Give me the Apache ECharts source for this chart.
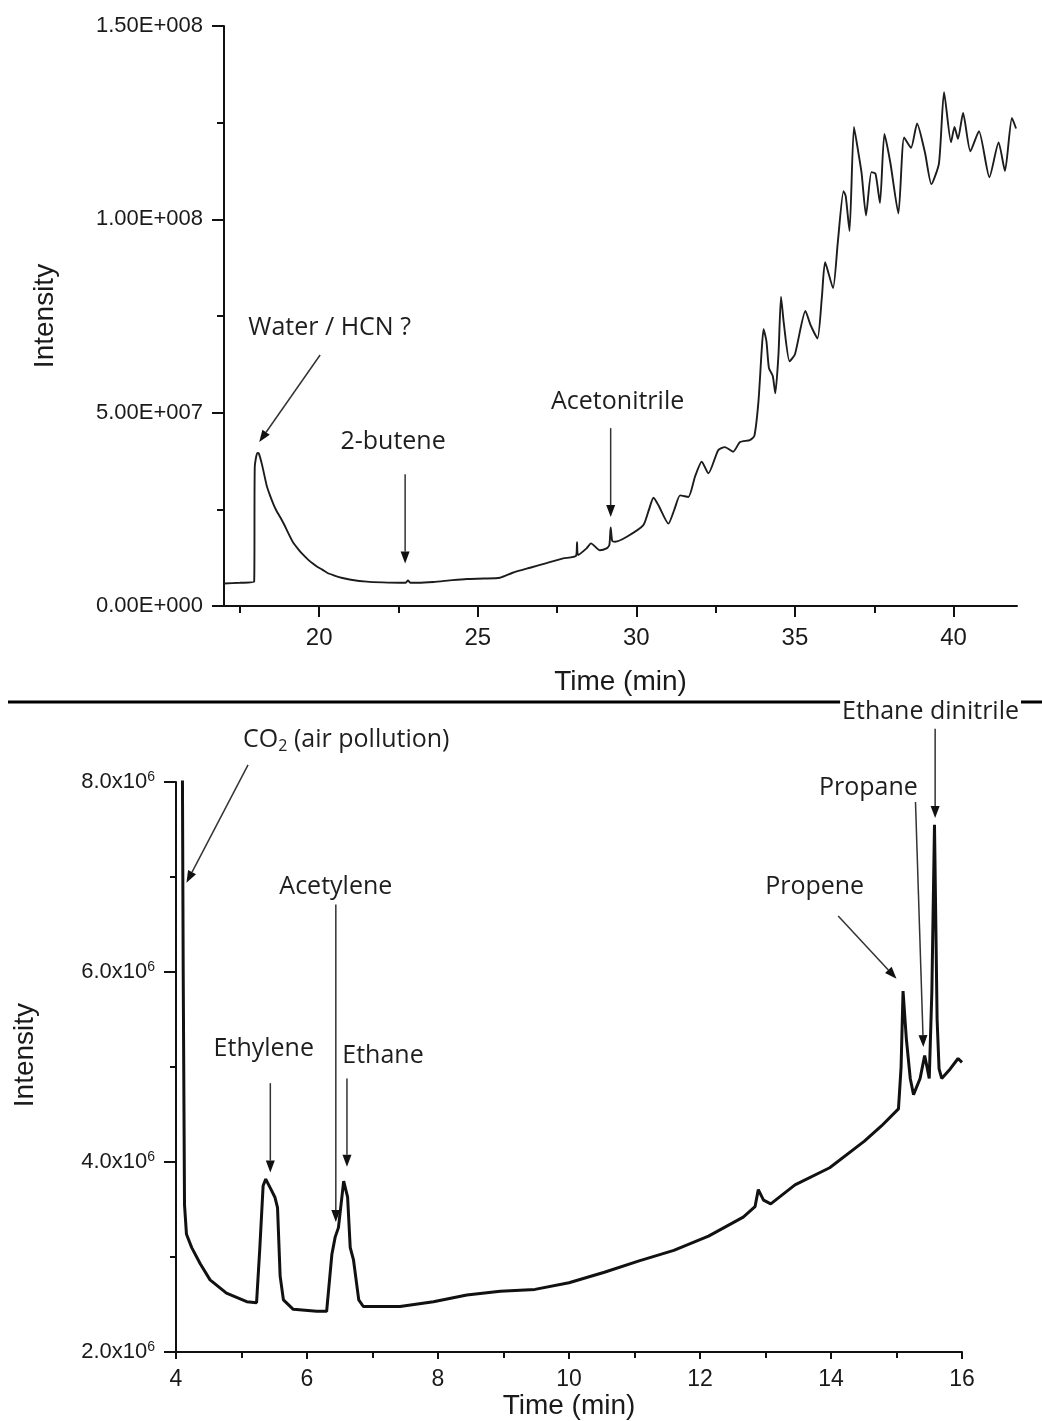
<!DOCTYPE html>
<html>
<head>
<meta charset="utf-8">
<script src="https://cdn.jsdelivr.net/npm/echarts@6/dist/echarts.min.js"></script>
<style>
  html, body { margin: 0; padding: 0; background: #ffffff; }
  #chart { width: 1042px; height: 1421px; }
</style>
</head>
<body>
<div id="chart"></div>
<script>
// ---- Upper chromatogram (17–42 min), intensity in units of 1e6 ----
const upperTime = [
  17.0, 17.5, 17.95, 17.97, 18.05, 18.1, 18.2, 18.35, 18.45, 18.55, 18.65, 18.77, 18.9, 19.0,
  19.18, 19.35, 19.5, 19.65, 19.8, 19.95, 20.1, 20.25, 20.44, 20.7, 21.0, 21.5, 22.0, 22.55,
  22.72, 22.8, 22.88, 23.1, 23.6, 24.2, 24.66, 25.2,
  25.7, 26.1, 26.65, 27.17, 27.69, 28.1, 28.13, 28.16, 28.43, 28.57, 28.85, 29.06, 29.15,
  29.19, 29.24, 29.33, 29.7, 30.22, 30.4, 30.54, 30.7, 31.01, 31.2, 31.38, 31.64, 31.85,
  32.06, 32.27, 32.58, 32.79, 33.05, 33.27, 33.58, 33.72, 33.85, 33.95, 34.01, 34.1, 34.18,
  34.3, 34.38, 34.48, 34.56, 34.65, 34.83, 35.0, 35.33, 35.49, 35.71, 35.85, 35.95, 36.2,
  36.35, 36.53, 36.6, 36.72, 36.86, 37.0, 37.1, 37.24, 37.41, 37.54, 37.68, 37.82, 38.01,
  38.26, 38.44, 38.66, 38.85, 39.1, 39.3, 39.54, 39.7, 39.92, 40.03, 40.14, 40.3, 40.53,
  40.8, 41.13, 41.42, 41.62, 41.84, 41.97
];
const upperIntensity = [
  5.8, 6.0, 6.2, 36.0, 39.6, 39.4, 36.5, 31.0, 28.6, 26.5, 24.7, 23.0, 21.0, 19.3,
  16.4, 14.6, 13.2, 12.0, 11.0, 10.1, 9.4, 8.6, 8.0, 7.3, 6.8, 6.3, 6.1, 6.0,
  6.0, 6.6, 6.0, 6.0, 6.2, 6.7, 7.0, 7.1,
  7.3, 8.6, 9.9, 11.1, 12.3, 13.0, 16.5, 13.2, 14.9, 16.2, 14.4, 14.9, 15.8,
  20.3, 16.8, 16.6, 17.9, 20.9, 25.0, 28.0, 26.0, 21.3, 25.0, 28.6, 28.2, 33.5,
  37.3, 34.3, 40.3, 41.1, 39.9, 42.4, 42.9, 44.0, 53.0, 66.0, 71.6, 68.5, 61.5,
  59.5, 55.0, 65.0, 80.0, 73.0, 63.3, 65.1, 76.3, 72.7, 69.2, 80.0, 88.9, 82.2,
  94.0, 107.3, 106.0, 97.0, 123.9, 117.2, 112.0, 101.0, 112.2, 111.8, 104.2, 122.1, 114.5,
  101.5, 121.2, 118.5, 124.8, 117.2, 109.1, 114.5, 132.9, 119.9, 123.9, 120.8, 127.5, 117.6,
  122.8, 110.9, 119.9, 112.5, 126.2, 123.5
];

// ---- Lower chromatogram (4–16 min), intensity in units of 1e6 ----
const lowerTime = [
  4.09, 4.11, 4.13, 4.16, 4.24, 4.37, 4.52, 4.77, 5.08, 5.23, 5.28, 5.33, 5.37, 5.46,
  5.51, 5.55, 5.59, 5.64, 5.79, 6.15, 6.30, 6.38, 6.43, 6.48, 6.56, 6.62, 6.66, 6.71,
  6.79, 6.86, 7.42, 7.93, 8.44, 8.95, 9.48, 10.0, 10.54, 11.07, 11.6, 12.13, 12.66,
  12.84, 12.89, 12.97, 13.08, 13.45, 13.98, 14.51, 14.77, 15.03, 15.07, 15.10, 15.15,
  15.21, 15.26, 15.36, 15.43, 15.46, 15.50, 15.54, 15.58, 15.62, 15.65, 15.69, 15.82,
  15.94, 16.0
];
const lowerIntensity = [
  9.5, 6.0, 3.55, 3.24, 3.10, 2.93, 2.76, 2.62, 2.53, 2.52, 3.10, 3.75, 3.82, 3.70,
  3.63, 3.52, 2.80, 2.55, 2.45, 2.43, 2.43, 3.03, 3.21, 3.31, 3.80, 3.63, 3.10, 2.97,
  2.55, 2.48, 2.48, 2.53, 2.60, 2.64, 2.66, 2.73, 2.84, 2.96, 3.07, 3.22, 3.42,
  3.53, 3.71, 3.60, 3.56, 3.76, 3.94, 4.22, 4.38, 4.56, 5.00, 5.80, 5.30,
  4.88, 4.71, 4.88, 5.12, 5.02, 4.88, 5.80, 7.55, 5.50, 4.98, 4.88, 4.98,
  5.09, 5.05
];

// ---- Tick labels ----
const upperXTicks = [20, 25, 30, 35, 40];
const upperXMinorTicks = [17.5, 22.5, 27.5, 32.5, 37.5];
const upperYTickLabels = ['0.00E+000', '5.00E+007', '1.00E+008', '1.50E+008'];
const lowerYTickLabels = ['2.0', '4.0', '6.0', '8.0'];

// ---- Peak annotations: label anchor and arrow (time, intensity/1e6) ----
const upperNotes = [
  { text: 'Water / HCN ?', at: [20.33, 71.9], from: [20.03, 64.9], to: [18.11, 42.4] },
  { text: '2-butene',      at: [22.33, 42.4], from: [22.71, 34.1], to: [22.71, 11.0] },
  { text: 'Acetonitrile',  at: [29.41, 52.7], from: [29.19, 46.0], to: [29.19, 23.0] }
];
const lowerNotes = [
  { text: '{a|CO}{s|2}{a| (air pollution)}', at: [6.60, 8.44], from: [5.10, 8.18], to: [4.16, 6.94] },
  { text: 'Acetylene',        at: [6.44, 6.90],  from: [6.44, 6.71],  to: [6.44, 3.37] },
  { text: 'Ethylene',         at: [5.34, 5.19],  from: [5.44, 4.83],  to: [5.44, 3.89] },
  { text: 'Ethane',           at: [7.16, 5.12],  from: [6.61, 4.88],  to: [6.61, 3.95] },
  { text: 'Propene',          at: [13.75, 6.90], from: [14.11, 6.59], to: [15.00, 5.93] },
  { text: 'Propane',          at: [14.57, 7.94], from: [15.29, 7.79], to: [15.41, 5.21] },
  { text: 'Ethane dinitrile', at: [15.52, 8.74], from: [15.59, 8.56], to: [15.59, 7.62], boxed: true }
];

const AXIS_FONT = '"Liberation Sans", Arial, sans-serif';
const NOTE_FONT = '"Open Sans", "Noto Sans", sans-serif';
const INK = '#111111';

const chart = echarts.init(document.getElementById('chart'), null, { renderer: 'canvas' });

const axisLineStyle = { show: true, lineStyle: { color: INK, width: 2 } };

const option = {
  animation: false,
  backgroundColor: '#ffffff',
  grid: [
    { left: 224, top: 26, width: 793, height: 580 },
    { left: 176, top: 782, width: 786, height: 574 }
  ],
  xAxis: [
    {
      gridIndex: 0, type: 'value', min: 17, max: 42, position: 'bottom',
      name: 'Time (min)', nameLocation: 'middle', nameGap: 62,
      nameTextStyle: { fontFamily: AXIS_FONT, fontSize: 28, color: '#1a1a1a' },
      axisLine: axisLineStyle,
      axisTick: { show: true, length: 11, lineStyle: { color: INK, width: 2 }, customValues: upperXTicks },
      axisLabel: { customValues: upperXTicks, margin: 20, fontFamily: AXIS_FONT, fontSize: 24, color: '#1a1a1a' },
      splitLine: { show: false }
    },
    {
      gridIndex: 1, type: 'value', min: 4, max: 16, interval: 2, position: 'bottom',
      name: 'Time (min)', nameLocation: 'middle', nameGap: 33,
      nameTextStyle: { fontFamily: AXIS_FONT, fontSize: 28, color: '#1a1a1a' },
      axisLine: axisLineStyle,
      axisTick: { show: true, length: 7, lineStyle: { color: INK, width: 2 } },
      minorTick: { show: true, splitNumber: 2, length: 6, lineStyle: { color: INK, width: 2 } },
      axisLabel: { margin: 16, fontFamily: AXIS_FONT, fontSize: 23, color: '#1a1a1a' },
      splitLine: { show: false }
    },
    {
      // minor ticks of the upper time axis
      gridIndex: 0, type: 'value', min: 17, max: 42, position: 'bottom',
      axisLine: { show: false },
      axisTick: { show: true, length: 7, lineStyle: { color: INK, width: 2 }, customValues: upperXMinorTicks },
      axisLabel: { show: false },
      splitLine: { show: false }
    }
  ],
  yAxis: [
    {
      gridIndex: 0, type: 'value', min: 0, max: 1.5e8, interval: 5e7,
      name: 'Intensity', nameLocation: 'middle', nameGap: 165,
      nameTextStyle: { fontFamily: AXIS_FONT, fontSize: 28, color: '#1a1a1a' },
      axisLine: axisLineStyle,
      axisTick: { show: true, length: 12, lineStyle: { color: INK, width: 2 } },
      minorTick: { show: true, splitNumber: 2, length: 7, lineStyle: { color: INK, width: 2 } },
      axisLabel: {
        margin: 21, fontFamily: AXIS_FONT, fontSize: 22, color: '#1a1a1a',
        formatter: v => upperYTickLabels[Math.round(v / 5e7)]
      },
      splitLine: { show: false }
    },
    {
      gridIndex: 1, type: 'value', min: 2e6, max: 8e6, interval: 2e6,
      name: 'Intensity', nameLocation: 'middle', nameGap: 137,
      nameTextStyle: { fontFamily: AXIS_FONT, fontSize: 28, color: '#1a1a1a', padding: [0, 0, 0, 24] },
      axisLine: axisLineStyle,
      axisTick: { show: true, length: 12, lineStyle: { color: INK, width: 2 } },
      minorTick: { show: true, splitNumber: 2, length: 6, lineStyle: { color: INK, width: 2 } },
      axisLabel: {
        margin: 21, color: '#1a1a1a',
        formatter: v => '{m|' + lowerYTickLabels[Math.round((v - 2e6) / 2e6)] + 'x10}{s|6}',
        rich: {
          m: { fontFamily: AXIS_FONT, fontSize: 22, color: '#1a1a1a' },
          s: { fontFamily: AXIS_FONT, fontSize: 14, color: '#1a1a1a', padding: [0, 0, 10, 0] }
        }
      },
      splitLine: { show: false }
    }
  ],
  series: [
    {
      type: 'line', xAxisIndex: 0, yAxisIndex: 0, symbol: 'none', clip: true,
      smooth: 0.2,
      lineStyle: { color: '#1c1c1c', width: 1.9 },
      data: upperTime.map((t, i) => [t, upperIntensity[i] * 1e6])
    },
    {
      type: 'line', xAxisIndex: 1, yAxisIndex: 1, symbol: 'none', clip: true,
      lineStyle: { color: '#111111', width: 3 },
      data: lowerTime.map((t, i) => [t, lowerIntensity[i] * 1e6])
    }
  ]
};

chart.setOption(option);

// Annotations are placed through the axes' own scales.
function toPx(gridIndex, p) {
  return chart.convertToPixel({ gridIndex: gridIndex }, [p[0], p[1] * 1e6]);
}

function arrow(gridIndex, note) {
  const a = toPx(gridIndex, note.from);
  const b = toPx(gridIndex, note.to);
  const dx = b[0] - a[0], dy = b[1] - a[1];
  const len = Math.hypot(dx, dy);
  const ux = dx / len, uy = dy / len;
  const headLen = 12, headHalf = 4.5;
  const base = [b[0] - ux * headLen, b[1] - uy * headLen];
  return [
    { type: 'line', silent: true, z: 10,
      shape: { x1: a[0], y1: a[1], x2: base[0], y2: base[1] },
      style: { stroke: '#333333', lineWidth: 1.5 } },
    { type: 'polygon', silent: true, z: 10,
      shape: { points: [b, [base[0] - uy * headHalf, base[1] + ux * headHalf], [base[0] + uy * headHalf, base[1] - ux * headHalf]] },
      style: { fill: '#111111' } }
  ];
}

function label(gridIndex, note) {
  const p = toPx(gridIndex, note.at);
  const style = {
    text: note.text, x: p[0], y: p[1],
    align: 'center', verticalAlign: 'middle', textAlign: 'center', textVerticalAlign: 'middle',
    font: '25px ' + NOTE_FONT, fill: '#1e1e1e',
    rich: {
      a: { fontFamily: NOTE_FONT, fontSize: 25, fill: '#1e1e1e', color: '#1e1e1e' },
      s: { fontFamily: NOTE_FONT, fontSize: 16, fill: '#1e1e1e', color: '#1e1e1e', padding: [12, 0, 0, 0] }
    }
  };
  if (note.boxed) {
    style.backgroundColor = '#ffffff';
    style.padding = [0, 2, 0, 2];
  }
  return { type: 'text', silent: true, z: 20, style: style };
}

const graphics = [
  // panel separator
  { type: 'line', silent: true, z: 5,
    shape: { x1: 8, y1: 702, x2: 1042, y2: 702 },
    style: { stroke: '#000000', lineWidth: 3 } }
];
upperNotes.forEach(n => { graphics.push(...arrow(0, n)); graphics.push(label(0, n)); });
lowerNotes.forEach(n => { graphics.push(...arrow(1, n)); graphics.push(label(1, n)); });

chart.setOption({ graphic: graphics });
</script>
</body>
</html>
